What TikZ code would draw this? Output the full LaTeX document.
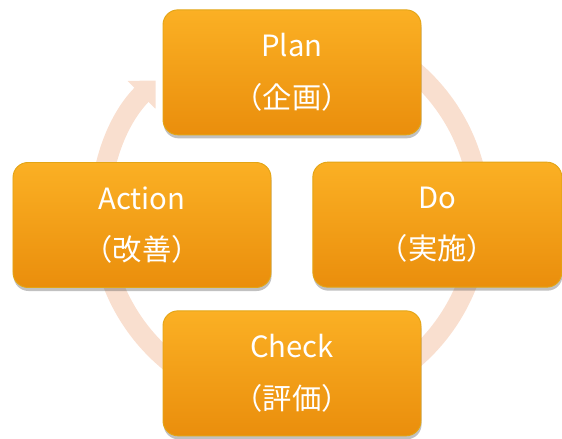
\documentclass[tikz,border=0pt]{standalone}
\usepackage{fontspec}
\newfontfamily\jpfont{Noto Sans CJK JP}
\usetikzlibrary{arrows.meta,shadows,positioning}
\definecolor{boxtop}{HTML}{FBB024}
\definecolor{boxbot}{HTML}{EA8E0C}
\definecolor{boxrim}{HTML}{E3A516}
\definecolor{ringcol}{HTML}{F9DFCF}

\tikzset{
  stage/.style={rectangle, rounded corners=0.45cm,
    minimum width=7.74cm, minimum height=3.75cm,
    top color=boxtop, bottom color=boxbot,
    draw=boxrim, line width=0.8pt,
    text=white, align=center,
    font=\jpfont\fontsize{25}{44}\selectfont,
    drop shadow={shadow xshift=0.5pt, shadow yshift=-3pt,
      opacity=0.35, fill=black!70}},
  cycle ring/.style={ringcol, line width=0.6cm,
    -{Triangle[length=0.6cm, width=1.15cm]}}
}

\begin{document}
\begin{tikzpicture}
\useasboundingbox (0,0) rectangle (16.86,13.17);
\coordinate (hub) at (8.7,6.72);
% the cycle arrow behind the boxes
\draw[cycle ring] (hub) ++(100:5.7)
  arc[start angle=100, end angle=-225, radius=5.7];
% the four stages
\node[stage] (plan) at (8.76,11.0) {Plan\\（企画）};
\node[stage] (action) at (4.26,6.42) {Action\\（改善）};
\node[stage, minimum width=7.47cm] (do) at (13.12,6.43) {Do\\（実施）};
\node[stage] (check) at (8.76,1.97) {Check\\（評価）};
\end{tikzpicture}
\end{document}
